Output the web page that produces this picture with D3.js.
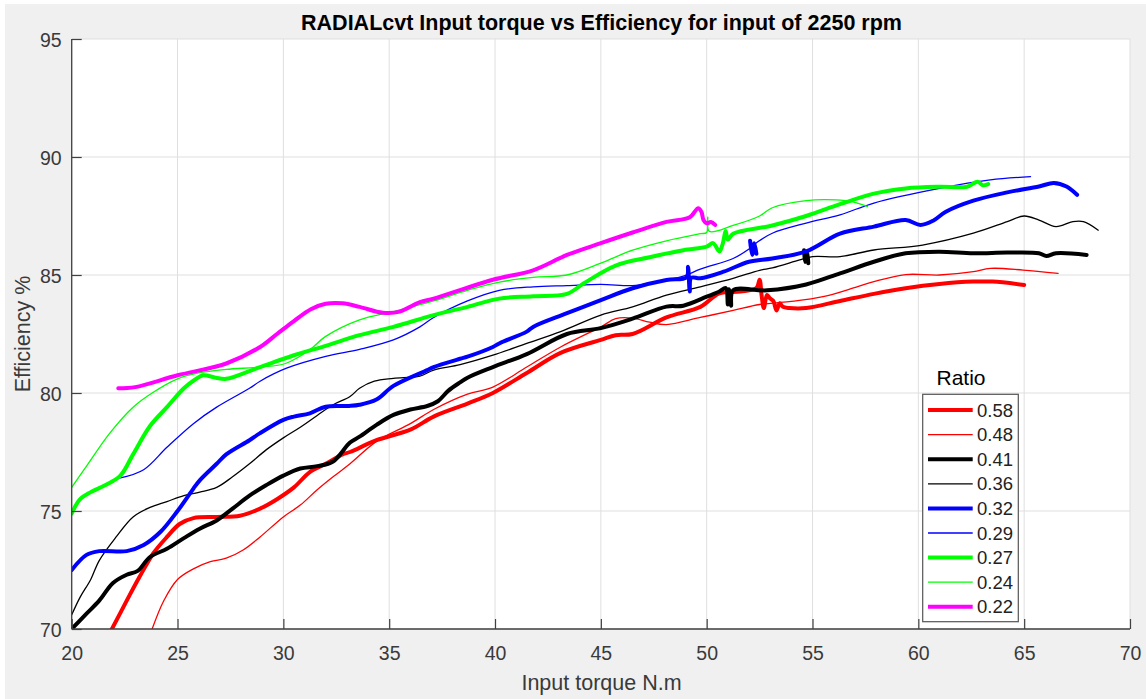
<!DOCTYPE html>
<html>
<head>
<meta charset="utf-8">
<script src="https://cdn.jsdelivr.net/npm/d3@7/dist/d3.min.js"></script>
<style>
  html, body { margin: 0; padding: 0; background: #ffffff; }
  svg { display: block; font-family: "Liberation Sans", Arial, Helvetica, sans-serif; }
</style>
</head>
<body>
<svg id="chart" width="1146" height="699"></svg>
<script>
// ---------------- DATA ----------------
const title = "RADIALcvt Input torque vs Efficiency for input of 2250 rpm";
const xLabel = "Input torque N.m";
const yLabel = "Efficiency %";
const legendTitle = "Ratio";
const xTicks = [20, 25, 30, 35, 40, 45, 50, 55, 60, 65, 70];
const yTicks = [70, 75, 80, 85, 90, 95];
const ratios = ["0.58", "0.48", "0.41", "0.36", "0.32", "0.29", "0.27", "0.24", "0.22"];

// [input torque (N.m), efficiency (%)]; null separates detached fragments
const r058 = [[21.9,70.0],[22.6,71.2],[23.2,72.2],[23.85,73.2],[24.5,73.9],[25.1,74.45],[25.75,74.7],[26.85,74.75],[27.95,74.8],[28.9,75.1],[29.7,75.5],[30.5,76.0],[31.25,76.65],[32,77.0],[32.8,77.4],[33.15,77.5],[34.4,78.0],[36,78.45],[37.1,79.0],[38.7,79.55],[39.9,80.0],[41.5,80.85],[43.1,81.7],[45,82.25],[45.7,82.45],[46.5,82.5],[48.1,83.2],[49.7,83.65],[50.6,84.22],[51.6,84.3],[52.35,84.45],[52.5,84.8],[52.6,84.1],[52.7,83.6],[52.85,84.15],[53.0,84.0],[53.15,83.9],[53.3,83.5],[53.45,83.8],[53.6,83.65],[53.9,83.6],[54.7,83.6],[56.3,83.9],[57.9,84.2],[59.4,84.44],[61,84.62],[62.6,84.72],[63.5,84.72],[65,84.58]];
const r048 = [[23.8,70.0],[24.35,71.2],[25,72.1],[25.75,72.55],[26.55,72.85],[27.3,73.0],[28.1,73.35],[28.9,73.9],[30,74.75],[30.8,75.25],[31.6,75.9],[32.35,76.45],[33.15,77.0],[34.4,77.95],[36,78.7],[37.1,79.3],[38.7,79.95],[39.9,80.25],[41.5,81.1],[43.1,81.95],[45,82.8],[45.7,83.15],[46.5,83.17],[47.3,83.0],[48.1,82.9],[49.7,83.2],[51.25,83.5],[52.5,83.75],[53.9,83.87],[55.5,84.08],[57.1,84.5],[57.9,84.72],[59.4,85.02],[61,85.0],[62.6,85.14],[63.4,85.28],[64.95,85.21],[66.6,85.07]];
const r041 = [[20,70.0],[20.7,70.65],[21.3,71.2],[21.95,71.95],[22.6,72.3],[23.1,72.45],[23.7,73.05],[24.5,73.4],[25.3,73.85],[26.05,74.25],[26.85,74.6],[27.6,75.1],[28.4,75.65],[29.2,76.1],[30,76.5],[30.8,76.8],[31.6,76.9],[32.35,77.1],[33.15,77.9],[33.6,78.15],[34.4,78.65],[35.2,79.07],[36.0,79.3],[36.8,79.45],[37.3,79.65],[37.8,80.1],[38.35,80.45],[38.7,80.65],[39.9,81.1],[41.5,81.65],[43.4,82.5],[45,82.75],[46.5,83.15],[48.1,83.66],[48.9,83.7],[50,84.08],[50.6,84.3],[50.9,84.45],[51.0,83.75],[51.05,84.4],[51.15,83.7],[51.25,84.35],[52.85,84.35],[54.7,84.6],[56.3,85.07],[57.9,85.56],[59.4,85.92],[61,85.99],[62.6,85.92],[64.2,85.95],[65.7,85.92],[66.05,85.8],[66.5,85.92],[67.95,85.85],
  null,[54.6,86.05],[54.65,85.55],[54.75,85.95],[54.8,85.5]];
const r036 = [[20,70.6],[20.4,71.35],[20.9,72.1],[21.3,72.9],[22.1,73.9],[22.9,74.75],[23.7,75.15],[24.5,75.4],[25.3,75.65],[26.05,75.8],[26.85,76.0],[27.6,76.45],[28.4,77.0],[29.2,77.6],[30,78.1],[30.8,78.55],[31.6,79.05],[32.35,79.5],[33.15,79.85],[33.6,80.2],[34.3,80.5],[35.2,80.62],[36.45,80.72],[37.1,80.97],[38.35,81.2],[39.9,81.6],[41.5,82.1],[43.1,82.6],[45,83.3],[46.5,83.65],[48.1,84.15],[49.7,84.5],[51.25,84.86],[52.5,85.2],[53.1,85.3],[54.4,85.64],[55.0,85.78],[56.3,85.78],[57.9,86.06],[60.2,86.27],[62.6,86.77],[64.2,87.26],[65.0,87.5],[65.7,87.33],[66.5,87.05],[67.3,87.26],[67.8,87.26],[68.5,86.9]];
const r032 = [[20,72.5],[20.7,73.14],[21.3,73.3],[22.6,73.3],[23.4,73.56],[24.2,74.12],[25,75.0],[25.75,75.95],[26.05,76.3],[26.85,77.0],[27.3,77.4],[28.4,78.0],[28.9,78.3],[30,78.86],[30.5,79.0],[31.25,79.14],[32,79.42],[33.1,79.45],[33.6,79.5],[34.4,79.72],[35.2,80.3],[36.8,80.97],[37.1,81.1],[38.35,81.45],[38.7,81.54],[39.9,81.95],[40.2,82.1],[41.5,82.6],[41.8,82.8],[43.4,83.38],[45,83.94],[46.5,84.44],[48.1,84.79],[49.05,84.9],[49.12,85.35],[49.2,84.3],[49.27,84.88],[49.7,84.86],[50.8,85.14],[52.0,85.56],[53.1,85.7],[54.7,86.0],[56.3,86.75],[57.9,87.05],[59.4,87.33],[60.1,87.12],[60.7,87.3],[61.3,87.68],[62.6,88.15],[64.2,88.5],[65.7,88.75],[66.4,88.9],[67.0,88.75],[67.5,88.4],
  null,[52.05,86.45],[52.15,85.85],[52.25,86.35],[52.35,85.9]];
const r029 = [[22.3,76.4],[23.4,76.75],[24.5,77.7],[25.75,78.7],[26.85,79.4],[28.4,80.2],[28.9,80.5],[30.15,81.05],[32,81.55],[33.6,81.85],[35.2,82.25],[36.45,82.8],[37.1,83.2],[38.7,83.9],[40.2,84.35],[41.8,84.5],[43.4,84.55],[45,84.6],[46.5,84.55],[47.3,84.65],[48.9,84.95],[49.7,85.25],[51.25,85.7],[52.0,86.1],[52.4,86.4],[53.1,86.77],[54.7,87.2],[56.3,87.55],[57.9,88.05],[61,88.67],[63.4,89.03],[65.3,89.17]];
const r027 = [[20,74.9],[20.4,75.5],[20.9,75.8],[21.6,76.1],[22.3,76.5],[22.9,77.4],[23.7,78.6],[24.5,79.4],[25.3,80.2],[25.8,80.55],[26.2,80.75],[26.8,80.65],[27.3,80.6],[28.9,81.1],[30.5,81.6],[32,82.0],[33.6,82.45],[35.2,82.8],[37.1,83.3],[38.7,83.65],[40.2,84.0],[41.8,84.1],[43.4,84.2],[44.2,84.65],[45.7,85.4],[47.3,85.75],[48.9,86.05],[50.0,86.2],[50.3,86.35],[50.6,86.0],[50.75,86.3],[50.9,86.85],[51.0,86.5],[51.25,86.75],[53.1,87.1],[54.7,87.5],[56.3,88.0],[57.9,88.45],[59.4,88.67],[61,88.74],[62.3,88.74],[62.8,88.95],[63.05,88.8],[63.3,88.85]];
const r024 = [[20,76.0],[20.7,76.9],[21.8,78.3],[22.9,79.4],[23.8,80.0],[25,80.6],[26,80.85],[27.3,81.0],[28.9,81.1],[30.1,81.25],[31.2,81.8],[32,82.4],[33.6,83.1],[35.2,83.45],[37.1,83.9],[38.7,84.35],[40.2,84.7],[41.8,84.9],[43.4,85.0],[45,85.5],[46.5,86.05],[48.1,86.45],[49.7,86.75],[50.0,86.8],[50.05,87.45],[50.12,86.85],[51.25,87.1],[52.5,87.5],[53.1,87.85],[54.7,88.15],[56.1,88.18],[56.9,88.1],[57.6,87.9]];
const r022 = [[22.2,80.2],[23,80.25],[25,80.75],[27.3,81.25],[28.9,81.95],[29.7,82.5],[30.5,83.05],[31.3,83.55],[32,83.78],[32.8,83.8],[33.6,83.65],[34.7,83.4],[35.5,83.45],[36.45,83.85],[37.1,84.0],[39.9,84.8],[41.8,85.2],[43.4,85.85],[45,86.35],[46.5,86.8],[48.1,87.25],[49.2,87.45],[49.6,87.83],[49.75,87.68],[49.85,87.33],[50.0,87.19],[50.2,87.25],[50.4,87.12]];

const seriesData = [r058, r048, r041, r036, r032, r029, r027, r024, r022];

// ---------------- STYLES / LAYOUT ----------------
const colorByRatio = {"0.58":"#ff0000","0.48":"#ff0000","0.41":"#000000","0.36":"#000000","0.32":"#0000ff","0.29":"#0000ff","0.27":"#00ff00","0.24":"#00ff00","0.22":"#ff00ff"};
const thickByRatio = {"0.58":true,"0.48":false,"0.41":true,"0.36":false,"0.32":true,"0.29":false,"0.27":true,"0.24":false,"0.22":true};
const THICK = 4, THIN = 1.3;

const svg = d3.select("#chart");
const W = 1146, H = 699;
const plot = {left: 71.7, right: 1130, top: 39, bottom: 629};

// figure background
svg.append("rect").attr("x",0).attr("y",0).attr("width",W).attr("height",H).attr("fill","#ffffff");
svg.append("rect").attr("x",5).attr("y",4).attr("width",W-5).attr("height",H-4).attr("fill","#f0f0f0");
svg.append("rect").attr("x",plot.left).attr("y",plot.top)
  .attr("width",plot.right-plot.left).attr("height",plot.bottom-plot.top).attr("fill","#ffffff");

const x = d3.scaleLinear().domain([20,70]).range([plot.left, plot.right]);
const y = d3.scaleLinear().domain([70,95]).range([plot.bottom, plot.top]);

// grid
const grid = svg.append("g");
grid.selectAll("line.gx").data(xTicks).join("line")
  .attr("x1", d=>x(d)).attr("x2", d=>x(d)).attr("y1", plot.top).attr("y2", plot.bottom)
  .attr("stroke","#dfdfdf").attr("stroke-width",1);
grid.selectAll("line.gy").data(yTicks).join("line")
  .attr("y1", d=>y(d)).attr("y2", d=>y(d)).attr("x1", plot.left).attr("x2", plot.right)
  .attr("stroke","#dfdfdf").attr("stroke-width",1);

// lines
svg.append("clipPath").attr("id","clip").append("rect")
  .attr("x",plot.left).attr("y",plot.top).attr("width",plot.right-plot.left).attr("height",plot.bottom-plot.top);
const lineGen = d3.line().defined(d => d !== null).x(d=>x(d[0])).y(d=>y(d[1]))
  .curve(d3.curveCatmullRom.alpha(0.5));
const lines = svg.append("g").attr("clip-path","url(#clip)");
seriesData.forEach((data, i) => {
  const r = ratios[i];
  lines.append("path").datum(data)
    .attr("d", lineGen)
    .attr("fill","none")
    .attr("stroke", colorByRatio[r])
    .attr("stroke-width", thickByRatio[r] ? THICK : THIN)
    .attr("stroke-linejoin","round").attr("stroke-linecap","round");
});

// axes
const axisColor = "#404040";
const xAxis = svg.append("g").attr("transform",`translate(0,${plot.bottom})`)
  .call(d3.axisBottom(x).tickValues(xTicks).tickSize(-10).tickPadding(17).tickFormat(d3.format("d")));
const yAxis = svg.append("g").attr("transform",`translate(${plot.left},0)`)
  .call(d3.axisLeft(y).tickValues(yTicks).tickSize(-10).tickPadding(20).tickFormat(d3.format("d")));
[xAxis, yAxis].forEach(a => {
  a.select(".domain").attr("stroke", axisColor).attr("stroke-width",1.3);
  a.selectAll(".tick line").attr("stroke", axisColor).attr("stroke-width",1.2);
  a.selectAll(".tick text").attr("fill","#3a3a3a").style("font-size","19.5px")
   .style("font-family",'"Liberation Sans", Arial, sans-serif');
});
xAxis.select(".domain").attr("d", `M${plot.left},0H${plot.right}`);
yAxis.select(".domain").attr("d", `M0,${plot.bottom}V${plot.top}`);
xAxis.selectAll(".tick text").attr("dy", "0.71em");
yAxis.selectAll(".tick text").attr("x", -10).attr("dy","0.36em");

// labels
svg.append("text").attr("x", 601.5).attr("y", 30).attr("text-anchor","middle")
  .style("font-size","21.5px").style("font-weight","bold").attr("fill","#000").text(title);
svg.append("text").attr("x", 601.5).attr("y", 690).attr("text-anchor","middle")
  .style("font-size","21.5px").attr("fill","#3a3a3a").text(xLabel);
svg.append("text").attr("transform","translate(30,334) rotate(-90)").attr("text-anchor","middle")
  .style("font-size","21.5px").attr("fill","#3a3a3a").text(yLabel);

// legend
const leg = {x: 922.7, y: 394.3, w: 95.6, h: 227.4, row0: 410, step: 24.6};
svg.append("text").attr("x", 961).attr("y", 385).attr("text-anchor","middle")
  .style("font-size","21px").attr("fill","#000").text(legendTitle);
svg.append("rect").attr("x",leg.x).attr("y",leg.y).attr("width",leg.w).attr("height",leg.h)
  .attr("fill","#ffffff").attr("stroke","#555555").attr("stroke-width",1.2);
const items = svg.append("g").selectAll("g").data(ratios).join("g")
  .attr("transform",(d,i)=>`translate(0,${leg.row0 + i*leg.step})`);
items.append("line").attr("x1",928).attr("x2",972.7).attr("y1",0).attr("y2",0)
  .attr("stroke", d=>colorByRatio[d]).attr("stroke-width", d=>thickByRatio[d]?THICK:THIN);
items.append("text").attr("x",977).attr("y",0).attr("dy","0.36em")
  .style("font-size","18.5px").attr("fill","#222").text(d=>d);
</script>
</body>
</html>
